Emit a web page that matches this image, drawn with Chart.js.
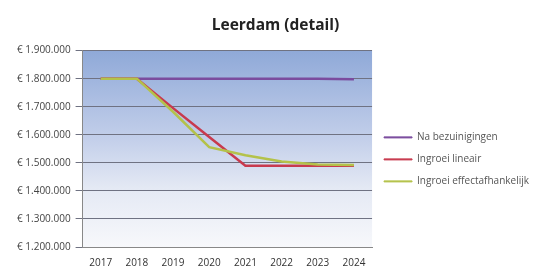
<!DOCTYPE html>
<html>
<head>
<meta charset="utf-8">
<script src="https://cdn.jsdelivr.net/npm/chart.js@4.4.0/dist/chart.umd.min.js"></script>
<style>
  html, body { margin: 0; padding: 0; background: #fff; }
  #wrap { width: 539px; height: 271px; position: relative; }
</style>
</head>
<body>
<div id="wrap"><canvas id="ch"></canvas></div>
<script>
const years = ['2017', '2018', '2019', '2020', '2021', '2022', '2023', '2024'];
const naBezuinigingen = [1800000, 1800000, 1800000, 1800000, 1800000, 1800000, 1800000, 1798000];
const ingroeiLineair = [1800000, 1800000, 1695000, 1592000, 1490000, 1490000, 1490000, 1490000];
const ingroeiEffect = [1800000, 1800000, 1682000, 1556000, 1527000, 1505000, 1494000, 1492000];
const yTicks = [1200000, 1300000, 1400000, 1500000, 1600000, 1700000, 1800000, 1900000];

const euro = v => '€ ' + String(v).replace(/\B(?=(\d{3})+(?!\d))/g, '.');

// verloop-achtergrond van het plotvlak
const plotBg = {
  id: 'plotBg',
  beforeDraw(chart) {
    const { ctx, chartArea: a } = chart;
    const g = ctx.createLinearGradient(0, a.top, 0, a.bottom);
    g.addColorStop(0, '#8fa9d8');
    g.addColorStop(0.45, '#c3cfea');
    g.addColorStop(0.7, '#e4e9f4');
    g.addColorStop(1, '#f7f8fb');
    ctx.save();
    ctx.fillStyle = g;
    ctx.fillRect(a.left, a.top, a.right - a.left, a.bottom - a.top);
    ctx.restore();
  }
};

function draw() {
  new Chart(document.getElementById('ch'), {
    type: 'line',
    data: {
      labels: years,
      datasets: [
        { label: 'Na bezuinigingen', data: naBezuinigingen, borderColor: '#7b4c9e', order: 2 },
        { label: 'Ingroei lineair', data: ingroeiLineair, borderColor: '#c83a4e', order: 1 },
        { label: 'Ingroei effectafhankelijk', data: ingroeiEffect, borderColor: '#b4c24a', order: 0 },
      ].map(d => ({ ...d, backgroundColor: d.borderColor, borderWidth: 2.5, pointRadius: 0, tension: 0, fill: false }))
    },
    options: {
      responsive: true, maintainAspectRatio: false, animation: false,
      layout: { padding: { left: 12, right: 0, top: 4, bottom: 0 } },
      plugins: {
        title: { display: true, text: 'Leerdam (detail)', color: '#222',
          font: { family: 'Open Sans', size: 15.5, weight: 'bold' }, padding: { top: 12, bottom: 16 } },
        legend: { position: 'right', align: 'center', maxWidth: 200,
          title: { display: true, text: ' ', font: { family: 'Open Sans', size: 9 }, padding: { top: 16, bottom: 17 } },
          labels: { boxWidth: 28, boxHeight: 1, padding: 12, color: '#555',
            font: { family: 'Open Sans', size: 10 },
            generateLabels: c => Chart.defaults.plugins.legend.labels.generateLabels(c).map(l => ({ ...l, lineWidth: 1 })),
            sort: (a, b) => a.datasetIndex - b.datasetIndex } },
        tooltip: { enabled: false }
      },
      scales: {
        x: { offset: true,
          grid: { display: false },
          border: { color: '#888' },
          ticks: { color: '#333', font: { family: 'Open Sans', size: 10 }, padding: 2 } },
        y: { min: 1200000, max: 1900000,
          afterBuildTicks: s => { s.ticks = yTicks.map(v => ({ value: v })); },
          grid: { color: '#6f7282', lineWidth: 1, tickLength: 7 },
          border: { color: '#888' },
          ticks: { color: '#444', font: { family: 'Open Sans', size: 10 }, padding: 5, callback: v => euro(v) } }
      }
    },
    plugins: [plotBg]
  });
}

Promise.all([
  document.fonts.load('9px "Open Sans"'),
  document.fonts.load('10px "Open Sans"'),
  document.fonts.load('bold 15.5px "Open Sans"')
]).then(draw, draw);
</script>
</body>
</html>
